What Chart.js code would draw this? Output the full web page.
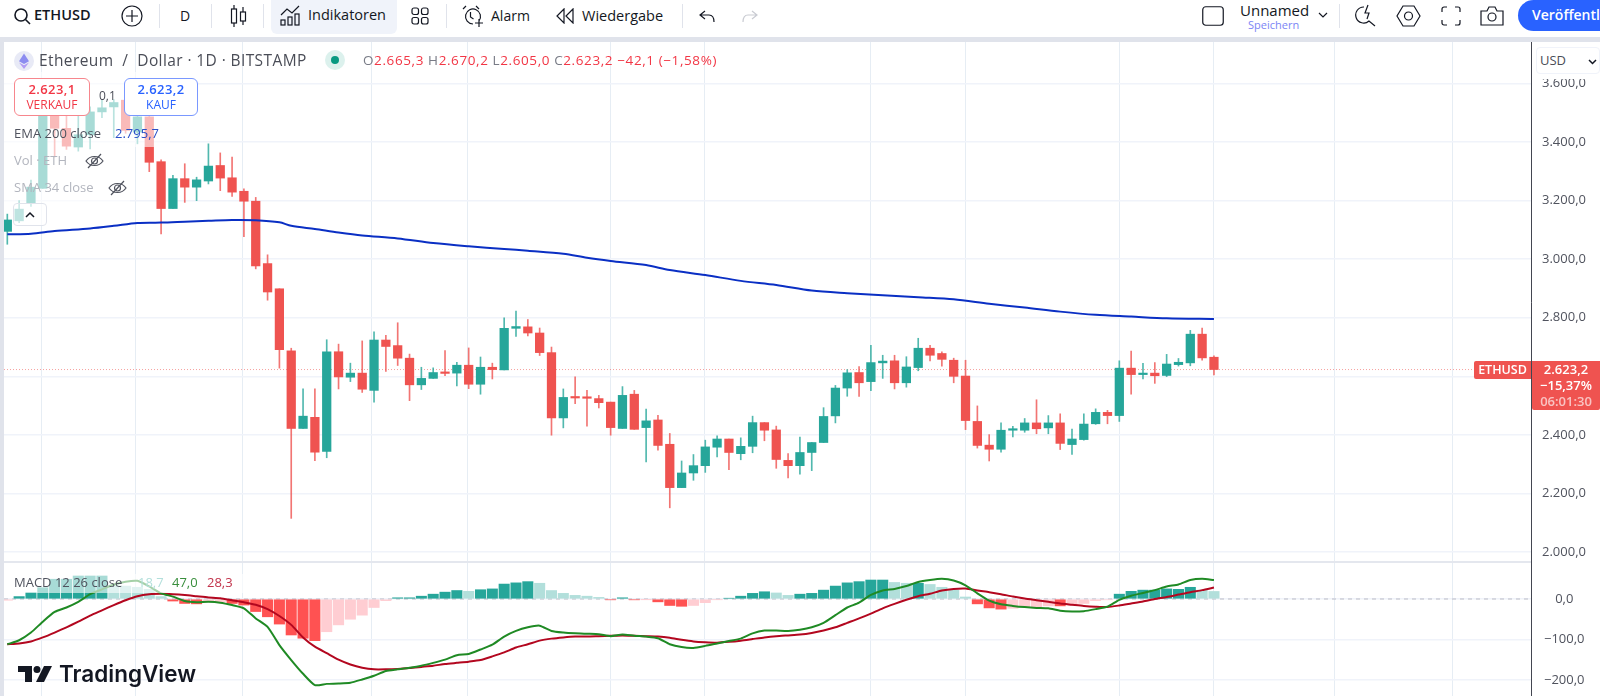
<!DOCTYPE html>
<html lang="de">
<head>
<meta charset="utf-8">
<title>ETHUSD</title>
<script src="https://cdn.jsdelivr.net/npm/chart.js@4/dist/chart.umd.min.js"></script>
<style>
  html, body { margin: 0; padding: 0; width: 1600px; height: 696px; overflow: hidden; background: #fff;
    font-family: "Open Sans", sans-serif; color: #131722; }
  canvas { position: absolute; display: block; }
  .a { position: absolute; white-space: pre; line-height: 1; }
  .bar { position: absolute; background: #e0e3eb; }
  .div { position: absolute; top: 4px; width: 1px; height: 24px; background: #e0e3eb; }
  .fade { position: absolute; background: rgba(255,255,255,.6); }
  svg.i { position: absolute; fill: none; stroke: #131722; stroke-width: 1.2; }
  .btn { position: absolute; top: 78px; height: 38px; box-sizing: border-box; background: #fff;
    border-radius: 6px; text-align: center; }
  .btn b { display: block; font-weight: 600; font-size: 13px; line-height: 14px; margin-top: 3px; letter-spacing: .4px; }
  .btn span { display: block; margin-top: 2px; font-size: 12px; line-height: 14px; }
</style>
</head>
<body>
<canvas id="priceChart" style="left:4px;top:42px" width="1596" height="520"></canvas>
<canvas id="macdChart" style="left:4px;top:562px" width="1596" height="134"></canvas>

<!-- Kopfleiste -->
<div class="bar" style="left:0;top:37px;width:1600px;height:5px"></div>
<div class="bar" style="left:0;top:42px;width:4px;height:654px"></div>
<div style="position:absolute;left:0;top:0;width:1600px;height:37px;background:#fff"></div>
<div style="position:absolute;left:271px;top:0;width:126px;height:34px;background:#f0f3fa;border-radius:0 0 6px 6px"></div>
<svg class="i" style="left:13px;top:7px" width="18" height="18" viewBox="0 0 18 18"><circle cx="8" cy="8" r="6" stroke-width="1.6"/><path d="M12.5 12.5 17 17" stroke-width="1.6"/></svg>
<div class="a" style="left:34px;top:8px;font-size:14.5px;font-weight:600">ETHUSD</div>
<svg class="i" style="left:121px;top:5px" width="22" height="22" viewBox="0 0 22 22"><circle cx="11" cy="11" r="10"/><path d="M11 5v12M5 11h12"/></svg>
<div class="div" style="left:159px"></div>
<div class="a" style="left:180px;top:9px;font-size:14px">D</div>
<div class="div" style="left:211px"></div>
<svg class="i" style="left:230px;top:4px" width="17" height="24" viewBox="0 0 17 24"><rect x="1.5" y="5" width="5" height="14"/><path d="M4 1v4M4 19v4M13 3v5M13 17v4"/><rect x="10.5" y="8" width="5" height="9"/></svg>
<div class="div" style="left:263px"></div>
<svg class="i" style="left:280px;top:5px" width="21" height="21" viewBox="0 0 21 21"><path d="M1 10 7 4l5 4 7-7"/><rect x="1" y="15" width="4" height="5"/><rect x="8" y="12" width="4" height="8"/><rect x="15" y="9" width="4" height="11"/></svg>
<div class="a" style="left:308px;top:8px;font-size:14.5px">Indikatoren</div>
<svg class="i" style="left:411px;top:7px" width="18" height="18" viewBox="0 0 18 18"><rect x="1" y="1" width="6.5" height="6.5" rx="2"/><rect x="10.5" y="1" width="6.5" height="6.5" rx="2"/><rect x="1" y="10.5" width="6.5" height="6.5" rx="2"/><rect x="10.5" y="10.5" width="6.5" height="6.5" rx="2"/></svg>
<div class="div" style="left:446px"></div>
<svg class="i" style="left:461px;top:5px" width="23" height="23" viewBox="0 0 23 23"><path d="M12 19a7.5 7.5 0 1 1 6-3M9.5 7v5l3 2M2 4l3-3M15 1l3 3M14 18h8M18 14v8"/></svg>
<div class="a" style="left:491px;top:9px;font-size:14px">Alarm</div>
<svg class="i" style="left:556px;top:8px" width="18" height="16" viewBox="0 0 18 16"><path d="M8 1 1 8l7 7zM17 1l-7 7 7 7z"/></svg>
<div class="a" style="left:582px;top:9px;font-size:14.5px">Wiedergabe</div>
<div class="div" style="left:682px"></div>
<svg class="i" style="left:699px;top:10px" width="16" height="13" viewBox="0 0 16 13"><path d="M6 1 1 5l5 4M1 5h9c3 0 5 2 5 7"/></svg>
<svg class="i" style="left:742px;top:10px;stroke:#c9cbd2" width="16" height="13" viewBox="0 0 16 13"><path d="M10 1l5 4-5 4M15 5H6c-3 0-5 2-5 7"/></svg>

<svg class="i" style="left:1202px;top:6px" width="22" height="20" viewBox="0 0 22 20"><rect x=".75" y=".75" width="20.5" height="18.5" rx="3"/></svg>
<div class="a" style="left:1240px;top:3px;font-size:15px">Unnamed</div>
<div class="a" style="left:1248px;top:19px;font-size:11px;color:#7b85f5">Speichern</div>
<svg class="i" style="left:1318px;top:12px" width="10" height="7" viewBox="0 0 10 7"><path d="M1 1l4 4 4-4"/></svg>
<div class="div" style="left:1339px"></div>
<svg class="i" style="left:1355px;top:4px" width="21" height="23" viewBox="0 0 21 23"><path d="M9 3a8 8 0 1 0 5 14l6 5M13 1l-3 8h4l-2 6"/></svg>
<svg class="i" style="left:1396px;top:5px" width="25" height="22" viewBox="0 0 25 22"><path d="M7 1h11l6 10-6 10H7L1 11z"/><circle cx="12.5" cy="11" r="4"/></svg>
<svg class="i" style="left:1441px;top:6px" width="20" height="20" viewBox="0 0 20 20"><path d="M1 6V3a2 2 0 0 1 2-2h3M14 1h3a2 2 0 0 1 2 2v3M19 14v3a2 2 0 0 1-2 2h-3M6 19H3a2 2 0 0 1-2-2v-3"/></svg>
<svg class="i" style="left:1480px;top:5px" width="24" height="21" viewBox="0 0 24 21"><path d="M1 6h6l2-4h6l2 4h6v14H1z"/><circle cx="12" cy="12" r="4"/></svg>
<div style="position:absolute;left:1518px;top:0;width:110px;height:31px;background:#2962ff;border-radius:16px"></div>
<div class="a" style="left:1532px;top:8px;font-size:14px;font-weight:600;color:#fff">Veröffentlichen</div>

<!-- Legende oben links -->
<div class="fade" style="left:4px;top:72px;width:166px;height:75px"></div>
<div class="fade" style="left:4px;top:147px;width:106px;height:28px"></div>
<div class="fade" style="left:4px;top:175px;width:126px;height:28px"></div>
<svg style="position:absolute;left:14px;top:51px" width="20" height="20" viewBox="0 0 20 20"><circle cx="10" cy="10" r="10" fill="#e8eaf6"/><path d="M10 2.5 5 10.2 10 13l5-2.8z" fill="#8c8cf0"/><path d="M5 11.5 10 18l5-6.5-5 2.8z" fill="#b19cf5"/></svg>
<div class="a" style="left:39px;top:53px;font-size:15.5px;letter-spacing:.4px;color:#4a4d57">Ethereum  /  Dollar · 1D · BITSTAMP</div>
<svg style="position:absolute;left:325px;top:50px" width="20" height="20"><circle cx="10" cy="10" r="10" fill="#089981" opacity=".14"/><circle cx="10" cy="10" r="4" fill="#089981"/></svg>
<div class="a" style="left:363px;top:54px;font-size:13.5px;color:#f23645;letter-spacing:.6px"><span style="color:#787b86">O</span>2.665,3 <span style="color:#787b86">H</span>2.670,2 <span style="color:#787b86">L</span>2.605,0 <span style="color:#787b86">C</span>2.623,2 −42,1 (−1,58%)</div>

<div class="btn" style="left:14px;width:76px;border:1px solid #f7868d;color:#f23645"><b>2.623,1</b><span>VERKAUF</span></div>
<div class="a" style="left:99px;top:90px;font-size:12px;color:#4a4d57">0,1</div>
<div class="btn" style="left:124px;width:74px;border:1px solid #7a98ff;color:#2962ff"><b>2.623,2</b><span>KAUF</span></div>

<div class="a" style="left:14px;top:127px;font-size:13px;color:#50535e">EMA 200 close</div>
<div class="a" style="left:115px;top:127px;font-size:13px;color:#2a50c8">2.795,7</div>
<div class="a" style="left:14px;top:154px;font-size:13px;color:#b2b5be">Vol · ETH</div>
<svg class="i" style="left:85px;top:153px;stroke:#50535e" width="19" height="16" viewBox="0 0 19 16"><path d="M1 8c4-6 13-6 17 0-4 6-13 6-17 0z"/><circle cx="9.5" cy="8" r="3"/><path d="M3 15 16 1"/></svg>
<div class="a" style="left:14px;top:181px;font-size:13px;color:#b2b5be">SMA 34 close</div>
<svg class="i" style="left:108px;top:180px;stroke:#50535e" width="19" height="16" viewBox="0 0 19 16"><path d="M1 8c4-6 13-6 17 0-4 6-13 6-17 0z"/><circle cx="9.5" cy="8" r="3"/><path d="M3 15 16 1"/></svg>
<div style="position:absolute;left:13px;top:203px;width:34px;height:23px;box-sizing:border-box;border:1px solid #e0e3eb;border-radius:4px;background:rgba(255,255,255,.7)"></div>
<svg class="i" style="left:25px;top:211px" width="10" height="7" viewBox="0 0 10 7"><path d="M1 6l4-4 4 4" stroke-width="1.5"/></svg>

<!-- rechte Skala oben -->
<div style="position:absolute;left:1532px;top:42px;width:68px;height:37px;background:#fff"></div>
<div style="position:absolute;left:1536px;top:47px;width:64px;height:27px;box-sizing:border-box;border:1px solid #f0f3fa;border-radius:4px"></div>
<div class="a" style="left:1540px;top:54px;font-size:13px;color:#4a4d57">USD</div>
<svg class="i" style="left:1588px;top:59px" width="9" height="6" viewBox="0 0 9 6"><path d="M1 1l3.5 3.5L8 1" stroke-width="1.5"/></svg>

<!-- Kursmarke -->
<div class="a" style="left:1474px;top:361px;width:57px;height:18px;background:#ef5350;border-radius:2px 0 0 2px;color:#fff;font-size:12.5px;font-weight:600;line-height:18px;text-align:center">ETHUSD</div>
<div class="a" style="left:1532px;top:361px;width:68px;height:49px;background:#ef5350;border-radius:0 0 2px 2px;color:#fff;font-size:13px;font-weight:600;line-height:16px;text-align:center;padding-top:0">2.623,2<br>−15,37%<br><span style="opacity:.65">06:01:30</span></div>

<!-- MACD Legende -->
<div class="fade" style="left:4px;top:574px;width:240px;height:19px"></div>
<div class="a" style="left:14px;top:576px;font-size:13px;color:#50535e">MACD 12 26 close</div>
<div class="a" style="left:138px;top:576px;font-size:13px;color:#b2dfdb">18,7</div>
<div class="a" style="left:172px;top:576px;font-size:13px;color:#388e3c">47,0</div>
<div class="a" style="left:207px;top:576px;font-size:13px;color:#c2324a">28,3</div>

<!-- Logo -->
<svg style="position:absolute;left:18px;top:666px" width="34" height="16" viewBox="0 0 34 16" fill="#131722"><path d="M0 0h14v16H7V6H0z"/><circle cx="19" cy="3.5" r="3.5"/><path d="M26 0h8l-8 16h-8z"/></svg>
<div class="a" style="left:59px;top:663px;font-family:Inter,sans-serif;font-size:22.5px;font-weight:600;color:#131722">TradingView</div>

<script>
// Tageskerzen, von links nach rechts
const opens = [3095,3131,3191,3242,3488,3447,3383,3425,3503,3520,3543,3434,3486,3333,3173,3275,3246,3267,3320,3278,3232,3198,2985,2899,
  2687,2422,2460,2344,2684,2597,2611,2552,2724,2705,2662,2571,2593,2614,2611,2638,2573,2631,2622,2764,2769,2748,2681,2458,
  2528,2527,2524,2512,2422,2539,2425,2451,2368,2220,2270,2295,2358,2386,2336,2361,2442,2417,2313,2295,2340,2374,2465,2560,
  2613,2582,2646,2653,2578,2630,2696,2678,2655,2601,2446,2365,2351,2416,2416,2441,2424,2441,2367,2384,2438,2477,2466,2628,
  2606,2611,2603,2640,2646,2744,2665.3];
const highs = [3154,3200,3270,3540,3500,3488,3488,3520,3543,3545,3566,3500,3490,3339,3286,3326,3280,3394,3363,3349,3240,3211,3015,2899,
  2696,2557,2557,2725,2710,2645,2721,2752,2740,2783,2676,2631,2629,2688,2648,2697,2666,2645,2800,2823,2794,2765,2700,2557,
  2598,2552,2535,2512,2565,2552,2488,2467,2405,2311,2333,2382,2397,2386,2390,2464,2442,2430,2336,2393,2374,2493,2569,2623,
  2633,2706,2672,2672,2667,2730,2706,2684,2662,2655,2499,2401,2441,2429,2456,2520,2466,2472,2420,2472,2489,2484,2653,2686,
  2644,2647,2675,2661,2757,2765,2670.2];
const lows = [3051,3125,3180,3242,3349,3375,3369,3377,3483,3415,3430,3394,3299,3086,3173,3194,3200,3257,3234,3214,3077,2967,2860,2628,
  2115,2422,2312,2322,2557,2582,2545,2512,2617,2637,2517,2555,2593,2602,2567,2558,2539,2591,2622,2736,2738,2671,2399,2424,
  2507,2430,2492,2399,2422,2419,2308,2348,2151,2220,2245,2272,2325,2281,2315,2339,2380,2286,2253,2266,2278,2374,2441,2532,
  2531,2551,2593,2557,2563,2619,2653,2635,2578,2418,2355,2311,2341,2393,2409,2404,2404,2350,2333,2382,2436,2438,2446,2539,
  2591,2576,2599,2635,2636,2655,2605];
const closes = [3134,3171,3246,3491,3447,3386,3425,3503,3517,3535,3440,3486,3331,3173,3275,3246,3271,3318,3277,3229,3198,2977,2888,2691,
  2422,2464,2341,2684,2598,2611,2556,2724,2702,2662,2571,2593,2613,2610,2638,2573,2631,2623,2764,2770,2748,2681,2458,2528,
  2526,2525,2510,2425,2535,2419,2448,2364,2220,2270,2295,2359,2386,2340,2361,2442,2416,2316,2295,2340,2374,2463,2560,2612,
  2578,2647,2652,2578,2632,2696,2672,2658,2600,2449,2364,2351,2416,2418,2441,2421,2441,2371,2386,2437,2477,2466,2628,2606,
  2610,2602,2642,2648,2744,2663,2623.2];

const emaDays = [0,2,4,7,9,11,13,15,17,19,21,23,24,26,28,30,33,36,39,42,44,47,49,51,54,56,59,62,65,68,71,74,77,80,83,86,89,92,95,98,102];
const emaVals = [3085,3087,3096,3105,3114,3124,3125,3128,3131,3134,3133,3126,3114,3103,3091,3081,3071,3055,3044,3035,3029,3019,3005,2994,
  2980,2963,2946,2926,2912,2893,2884,2877,2870,2863,2848,2835,2821,2810,2804,2798,2795.7];

// MACD Fenster
const macdLine = [-112,-102,-83,-56,-32,-21,-7,12,24,36,43,45,31,14,6,-5,-8,-7,-9,-15,-23,-48,-69,-114,-151,-185,-213,-210,-209,-207,-199,-190,-178,-174,-170,-165,-158,-150,-139,-136,-125,-113,-93,-79,
  -70,-66,-79,-83,-85,-86,-87,-92,-88,-91,-93,-97,-112,-119,-121,-116,-110,-104,-98,-85,-78,-78,-79,-76,-70,-59,-40,-21,-9,10,21,25,32,42,47,50,46,34,14,-4,-13,-17,-20,-22,-23,-29,-31,-30,-25,-19,-2,8,15,22,31,36,47,50,47];
const signalLine = [-112,-110,-105,-95,-83,-70,-56,-41,-28,-15,-3,7,12,13,12,10,7,4,2,-3,-8,-14,-25,-42,-64,-95,-118,-134,-150,-162,-170,-174,-174,-173,-171,-168,-165,-161,-158,-155,-151,-142,-132,-120,
  -112,-103,-98,-95,-93,-93,-92,-91,-90,-91,-92,-93,-96,-101,-105,-107,-108,-106,-103,-99,-95,-92,-90,-88,-84,-78,-70,-59,-48,-36,-23,-12,-2,7,13,21,25,26,21,17,12,6,1,-3,-7,-11,-14,-17,-19,-20,-16,-11,-6,0,5,11,17,22,28.3];
const histVals = [-3,6,16,28,49,49,57,57,57,35,32,29,24,6,-5,-11,-12,-7,-8,-11,-15,-31,-44,-62,-89,-97,-103,-81,-64,-50,-40,-21,-4,3,3,7,12,17,21,19,23,25,37,40,
  43,39,21,14,9,7,4,-2,3,-2,-1,-7,-16,-18,-16,-9,-1.5,2,7,14,18,15,9,12,14,22,32,40,43,47,47,41,39,39,36,29,22,5,-12,-22,-25,-23,-19,-19,-17,-17,-15,-11,-4,-2,12,19,22,22,25,24,29,22,18.7];
// 1 = kräftige Farbe, 0 = blasse Farbe (Histogramm wächst oder schrumpft)
const histStrong = [0,1,1,1,1,1,1,1,1,0,0,0,0,0,1,1,1,0,0,1,1,1,1,1,1,1,1,0,0,0,0,0,0,1,1,1,1,1,1,0,1,1,1,1,
  1,0,0,0,0,0,0,1,1,1,0,1,1,1,0,0,0,1,1,1,1,0,0,1,1,1,1,1,1,1,1,0,0,1,0,0,0,0,1,1,1,0,0,0,0,1,0,0,0,0,1,1,1,1,1,1,1,0,0];

// Achsen
const priceTicks = [2000,2200,2400,2600,2800,3000,3200,3400,3600];
const macdTicks = [-200,-100,0];
const gridDays = [2.85,10.87,19.9,30.8,38.9,51,58.9,73,81,94,102,112.2,122.2];
const xMin = -0.28, xMax = 128.8;

const UP = '#26a69a', DOWN = '#ef5350';
const UP_WICK = 'rgba(38,166,154,.8)', DOWN_WICK = 'rgba(239,83,80,.8)';
const gridH = '#f0f3fa', gridV = '#e6edf4', tickColor = '#50535e';
const numFmt = new Intl.NumberFormat('de-DE', { minimumFractionDigits: 1, maximumFractionDigits: 1 });
const fmt = v => numFmt.format(v).replace('-', '\u2212');
const days = closes.map((_, i) => i);

function xScale() {
  return {
    type: 'linear', min: xMin, max: xMax, offset: false,
    afterBuildTicks: s => { s.ticks = gridDays.map(value => ({ value })); },
    grid: { color: gridV, lineWidth: 1, drawTicks: false, offset: false },
    border: { display: false },
    ticks: { display: false }
  };
}

function yScale(min, max, tickValues, pad) {
  return {
    position: 'right', min, max, offset: false,
    afterBuildTicks: s => { s.ticks = tickValues.map(value => ({ value })); },
    // feste Breite, Fläche geht bis ganz an den Rand
    afterFit: s => { s.width = 69; s.paddingTop = 0; s.paddingBottom = 0; },
    grid: { color: gridH, lineWidth: 1.5, drawTicks: false, offset: false },
    border: { display: true, color: '#434651', width: 1 },
    ticks: {
      color: tickColor, padding: pad, crossAlign: 'center',
      font: { family: '"Open Sans"', size: 13 },
      callback: v => fmt(v)
    }
  };
}

const baseOptions = {
  responsive: false, animation: false, events: [],
  layout: { autoPadding: false, padding: 0 },
  plugins: { legend: { display: false }, tooltip: { enabled: false } }
};

// Kurs-Fenster: Docht und Körper als schwebende Balken
new Chart(document.getElementById('priceChart'), {
  type: 'bar',
  data: {
    datasets: [
      {
        label: 'EMA 200', type: 'line', order: 0,
        data: emaDays.map((x, i) => ({ x, y: emaVals[i] })),
        borderColor: '#0a2fc4', borderWidth: 2, pointRadius: 0, tension: 0.3
      },
      {
        label: 'Body', order: 1, grouped: false, barThickness: 8.6, minBarLength: 1.5,
        data: days.map(i => ({ x: i, y: [opens[i], closes[i]] })),
        backgroundColor: days.map(i => closes[i] >= opens[i] ? UP : DOWN)
      },
      {
        label: 'Wick', order: 2, grouped: false, barThickness: 1,
        data: days.map(i => ({ x: i, y: [lows[i], highs[i]] })),
        backgroundColor: days.map(i => closes[i] >= opens[i] ? UP_WICK : DOWN_WICK)
      },
      {
        label: 'Last', type: 'line', order: 3,
        data: [{ x: xMin, y: closes[closes.length - 1] }, { x: xMax, y: closes[closes.length - 1] }],
        borderColor: 'rgba(239,83,80,.55)', borderWidth: 1, borderDash: [1, 2], pointRadius: 0
      }
    ]
  },
  options: {
    ...baseOptions,
    scales: { x: xScale(), y: yScale(1966, 3741.7, priceTicks, 11) }
  }
});

// MACD-Fenster
new Chart(document.getElementById('macdChart'), {
  type: 'bar',
  data: {
    datasets: [
      {
        label: 'MACD', type: 'line', order: 0,
        data: days.map(i => ({ x: i, y: macdLine[i] })),
        borderColor: '#1f8a24', borderWidth: 2, pointRadius: 0, tension: 0.2
      },
      {
        label: 'Signal', type: 'line', order: 1,
        data: days.map(i => ({ x: i, y: signalLine[i] })),
        borderColor: '#b3071f', borderWidth: 2, pointRadius: 0, tension: 0.2
      },
      {
        label: 'Hist', order: 2, grouped: false, barThickness: 10.4,
        data: days.map(i => ({ x: i, y: histVals[i] })),
        backgroundColor: days.map(i => histVals[i] >= 0
          ? (histStrong[i] ? '#26a69a' : '#b2dfdb')
          : (histStrong[i] ? '#ff5252' : '#ffcdd2'))
      },
      {
        label: 'Zero', type: 'line', order: 3,
        data: [{ x: xMin, y: 0 }, { x: xMax, y: 0 }],
        borderColor: 'rgba(120,123,134,.45)', borderWidth: 1, borderDash: [4, 4], pointRadius: 0
      }
    ]
  },
  options: {
    ...baseOptions,
    scales: { x: xScale(), y: yScale(-240, 91.6, macdTicks, 13) }
  }
});
</script>

<div class="bar" style="left:4px;top:561px;width:1527px;height:1.5px;background:#e4e7ee"></div>
</body>
</html>
